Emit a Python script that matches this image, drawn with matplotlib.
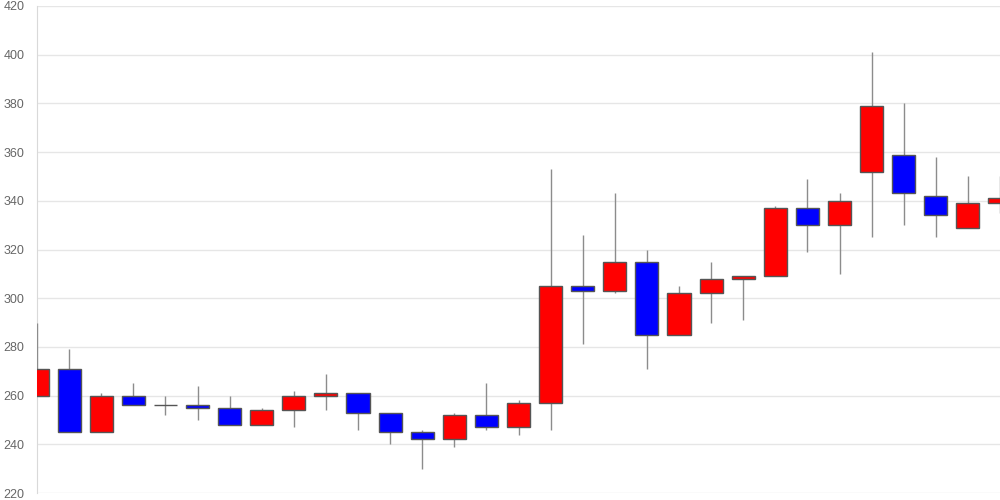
import numpy as np
import matplotlib.pyplot as plt

# daily OHLC values
opens = [260, 271, 245, 260, 256, 256, 255, 248, 254, 260,
         261, 253, 245, 242, 252, 247, 257, 305, 303, 315,
         285, 302, 308, 309, 337, 330, 352, 359, 342, 329, 339]
closes = [271, 245, 260, 256, 256, 255, 248, 254, 260, 261,
          253, 245, 242, 252, 247, 257, 305, 303, 315, 285,
          302, 308, 309, 337, 330, 340, 379, 343, 334, 339, 341]
highs = [290, 279, 261, 265, 260, 264, 260, 255, 262, 269,
         261, 253, 246, 253, 265, 258, 353, 326, 343, 320,
         305, 315, 309, 338, 349, 343, 401, 380, 358, 350, 350]
lows = [260, 245, 245, 256, 252, 250, 248, 248, 247, 254,
        246, 240, 230, 239, 246, 244, 246, 281, 302, 271,
        285, 290, 291, 309, 319, 310, 325, 330, 325, 329, 335]
y_ticks = [220, 240, 260, 280, 300, 320, 340, 360, 380, 400, 420]

o = np.array(opens)
c = np.array(closes)
x = np.arange(len(o))
colors = np.where(c >= o, '#ff0000', '#0000ff')

plt.rcParams['font.family'] = ['Liberation Sans', 'DejaVu Sans']
fig = plt.figure(figsize=(10, 5), dpi=100)
ax = fig.add_axes([0.037, 0.014, 0.963, 0.974])

# wicks behind bodies but above the axis line
ax.vlines(x, lows, highs, color='#8c8c8c', linewidth=1, zorder=2.6)
ax.bar(x, np.abs(c - o), bottom=np.minimum(o, c), width=0.72,
       color=colors, edgecolor='#555555', linewidth=1, zorder=3)

ax.set_xlim(0, len(o) - 1)
ax.set_ylim(220, 420)
ax.set_yticks(y_ticks)
ax.set_xticks([])
ax.grid(axis='y', color='#e6e6e6', linewidth=1, zorder=0)
ax.tick_params(axis='y', length=0, pad=9, labelsize=9, labelcolor='#666666')
for s in ['top', 'right', 'bottom']:
    ax.spines[s].set_visible(False)
ax.spines['left'].set_color('#d9d9d9')

fig.savefig('out.png', dpi=100)
